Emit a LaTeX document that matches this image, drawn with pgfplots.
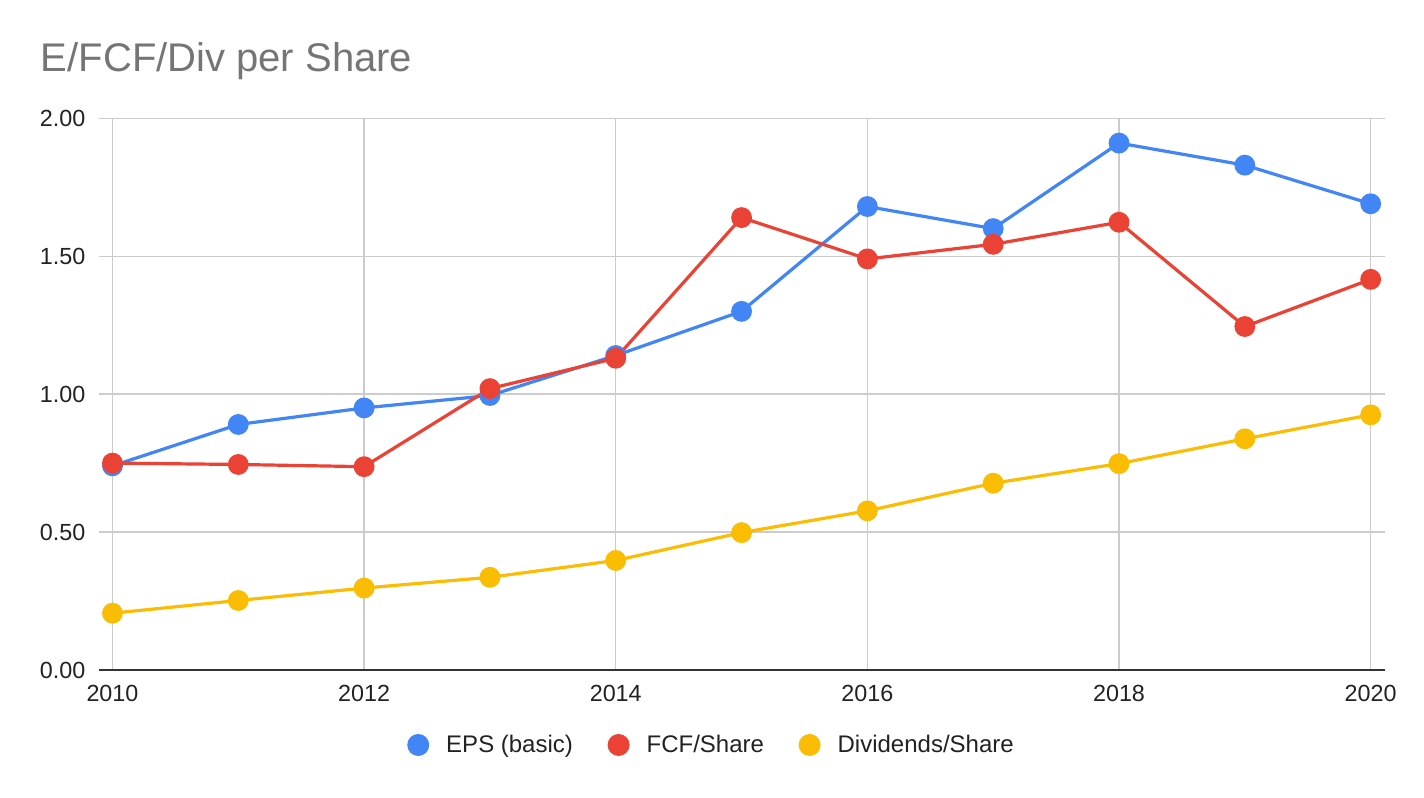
\documentclass[border=0pt]{standalone}
\usepackage{pgfplots}
\pgfplotsset{compat=1.18}
\usepackage{fontspec}
\setmainfont{Liberation Sans}
\definecolor{cblue}{HTML}{4285F4}
\definecolor{cred}{HTML}{EA4335}
\definecolor{cyellow}{HTML}{FBBC04}
\definecolor{gridgray}{HTML}{CCCCCC}
\definecolor{axisdark}{HTML}{333333}
\definecolor{titlegray}{HTML}{757575}
\definecolor{tickcol}{HTML}{222222}
\begin{document}
\begin{tikzpicture}
\useasboundingbox (0,0) rectangle (1068pt,598.5pt);
\node[anchor=base west, inner sep=0pt, text=titlegray, font=\fontsize{30}{35}\selectfont] at (30.5pt,544.7pt) {E/FCF/Div per Share};
\begin{axis}[
  at={(74.25pt,96pt)}, anchor=south west,
  width=964.5pt, height=413.8pt, scale only axis,
  xmin=2009.893, xmax=2020.114, ymin=0, ymax=2,
  xtick={2010,2012,2014,2016,2018,2020},
  ytick={0,0.5,1,1.5,2},
  grid=major,
  major grid style={draw=gridgray, line width=1pt},
  major tick length=0pt,
  axis line style={draw=none},
  extra y ticks={0}, extra y tick labels={},
  extra y tick style={grid=major, major grid style={draw=axisdark, line width=1.5pt}},
  clip=false,
  /pgf/number format/assume math mode=true,
  tick label style={font=\fontsize{17.5}{20}\selectfont, text=tickcol},
  yticklabel style={anchor=east, inner sep=0pt, xshift=-10pt,
     /pgf/number format/.cd, fixed, fixed zerofill, precision=2, assume math mode=true},
  xticklabel style={anchor=north, inner sep=0pt, yshift=-11.25pt,
     /pgf/number format/.cd, 1000 sep={}, assume math mode=true},
  legend image code/.code={\fill[#1, draw=none] (0pt,0pt) circle (8.25pt);},
  legend style={at={(axis description cs:0.4755,-0.1359)}, anchor=center,
     draw=none, fill=none, legend columns=3,
     font=\fontsize{18}{21}\selectfont, text=tickcol,
     nodes={inner sep=0pt},
     /tikz/every odd column/.append style={column sep=12.75pt},
     /tikz/every even column/.append style={column sep=26pt}},
  legend cell align=left,
]
\addplot[color=cblue, line width=2.4pt, mark=*, mark size=6.6pt, mark options={draw=none, fill=cblue}] coordinates {
 (2010,0.74) (2011,0.89) (2012,0.95) (2013,0.995) (2014,1.14) (2015,1.30)
 (2016,1.68) (2017,1.60) (2018,1.91) (2019,1.83) (2020,1.69)};
\addlegendentry{EPS (basic)}
\addplot[color=cred, line width=2.4pt, mark=*, mark size=6.6pt, mark options={draw=none, fill=cred}] coordinates {
 (2010,0.75) (2011,0.745) (2012,0.737) (2013,1.02) (2014,1.13) (2015,1.64)
 (2016,1.49) (2017,1.543) (2018,1.623) (2019,1.245) (2020,1.416)};
\addlegendentry{FCF/Share}
\addplot[color=cyellow, line width=2.4pt, mark=*, mark size=6.6pt, mark options={draw=none, fill=cyellow}] coordinates {
 (2010,0.206) (2011,0.252) (2012,0.297) (2013,0.336) (2014,0.397) (2015,0.498)
 (2016,0.577) (2017,0.677) (2018,0.748) (2019,0.838) (2020,0.925)};
\addlegendentry{Dividends/Share}
\end{axis}
\end{tikzpicture}
\end{document}
